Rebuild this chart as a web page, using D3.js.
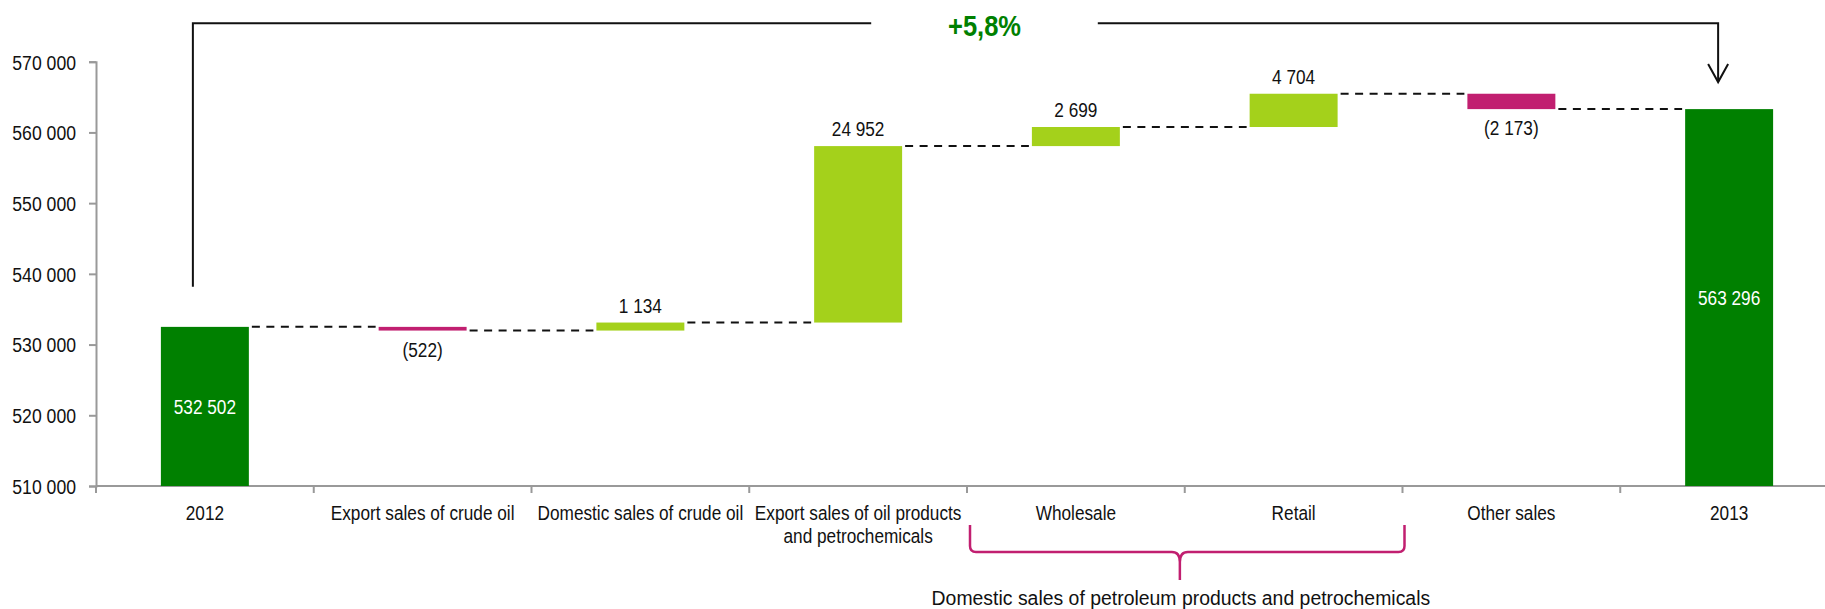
<!DOCTYPE html>
<html>
<head>
<meta charset="utf-8">
<script src="https://cdn.jsdelivr.net/npm/d3@7"></script>
<style>
  html, body { margin: 0; padding: 0; background: #fff; overflow: hidden; }
  svg { display: block; }
  text { font-family: "Liberation Sans", Arial, sans-serif; fill: #111; }
</style>
</head>
<body>
<svg id="chart" width="1825" height="609"></svg>
<script>
// Revenue bridge 2012 -> 2013 (waterfall)
const categories = [
  "2012",
  "Export sales of crude oil",
  "Domestic sales of crude oil",
  "Export sales of oil products\nand petrochemicals",
  "Wholesale",
  "Retail",
  "Other sales",
  "2013"
];
const kinds  = ["total", "delta", "delta", "delta", "delta", "delta", "delta", "total"];
const values = [532502, -522, 1134, 24952, 2699, 4704, -2173, 563296];
const yTicks = [510000, 520000, 530000, 540000, 550000, 560000, 570000];
const yDomain = [510000, 570000];
const changeLabel = "+5,8%";
const groupLabel = "Domestic sales of petroleum products and petrochemicals";
const groupMembers = ["Wholesale", "Retail"];

const COLORS = { total: "#008000", up: "#a4d11b", down: "#c11f70", axis: "#999999" };
const NARROW = 0.84;   // horizontal condensing applied to the label font

const svg = d3.select("#chart");

const x = d3.scaleBand().domain(categories).range([96, 1838]).padding(0);
const y = d3.scaleLinear().domain(yDomain).range([486, 61.7]);
const barW = x.bandwidth() * 0.404;

const locale = d3.formatLocale({ decimal: ",", thousands: " ", grouping: [3], currency: ["", ""] });
const fmt = locale.format(",d");
const fmtValue = v => v < 0 ? "(" + fmt(-v) + ")" : fmt(v);

// Condense a text horizontally around its anchor point
function condense(sel, sx) {
  sel.each(function () {
    const t = d3.select(this);
    const tx = +t.attr("x") || 0, ty = +t.attr("y") || 0;
    t.attr("x", 0).attr("y", 0)
     .attr("transform", `translate(${tx},${ty}) scale(${sx},1)`);
    t.selectAll("tspan").attr("x", 0);
  });
}

// Running totals -> bar extents
let running = 0;
const steps = categories.map((c, i) => {
  const v = values[i];
  let lo, hi, end;
  if (kinds[i] === "total") {
    lo = yDomain[0]; hi = v; end = v;
  } else {
    const start = running;
    end = start + v;
    lo = Math.min(start, end); hi = Math.max(start, end);
  }
  running = end;
  return { c, v, kind: kinds[i], lo, hi, end, cx: x(c) + x.bandwidth() / 2 };
});

// Y axis
const yAxis = d3.axisLeft(y).tickValues(yTicks).tickFormat(fmt).tickSize(7).tickPadding(13);
const gy = svg.append("g").attr("transform", "translate(96,0)").call(yAxis);
gy.select(".domain").attr("stroke", COLORS.axis).attr("stroke-width", 2);
gy.selectAll(".tick line").attr("stroke", COLORS.axis).attr("stroke-width", 2);
gy.selectAll(".tick text").attr("font-size", 20.5).attr("fill", "#111")
  .style("font-family", '"Liberation Sans", Arial, sans-serif')
  .attr("dy", "0.36em").call(condense, 0.86);

// X axis baseline with ticks at category boundaries
const gx = svg.append("g");
gx.append("line").attr("x1", 96).attr("x2", 1838).attr("y1", y(yDomain[0])).attr("y2", y(yDomain[0]))
  .attr("stroke", COLORS.axis).attr("stroke-width", 2);
gx.selectAll("line.tk").data(categories).join("line").attr("class", "tk")
  .attr("x1", c => x(c)).attr("x2", c => x(c))
  .attr("y1", y(yDomain[0])).attr("y2", y(yDomain[0]) + 7)
  .attr("stroke", COLORS.axis).attr("stroke-width", 2);

// Category labels
const cl = svg.append("g").selectAll("text").data(steps).join("text")
  .attr("text-anchor", "middle").attr("font-size", 20.5)
  .attr("x", d => d.cx).attr("y", 520);
cl.each(function (d) {
  const lines = d.c.split("\n");
  d3.select(this).selectAll("tspan").data(lines).join("tspan")
    .attr("x", d.cx).attr("dy", (l, i) => i === 0 ? 0 : 23.5).text(l => l);
});
cl.call(condense, NARROW);

// Connectors between consecutive bars
const conn = steps.slice(0, -1).map((d, i) => ({
  x1: d.cx + barW / 2 + 3,
  x2: steps[i + 1].cx - barW / 2 - 3,
  v: d.end
}));
svg.append("g").selectAll("line").data(conn).join("line")
  .attr("x1", d => d.x1).attr("x2", d => d.x2)
  .attr("y1", d => y(d.v)).attr("y2", d => y(d.v))
  .attr("stroke", "#111").attr("stroke-width", 2).attr("stroke-dasharray", "8,6.5");

// Bars
svg.append("g").selectAll("rect").data(steps).join("rect")
  .attr("x", d => d.cx - barW / 2).attr("width", barW)
  .attr("y", d => y(d.hi)).attr("height", d => y(d.lo) - y(d.hi))
  .attr("fill", d => d.kind === "total" ? COLORS.total : (d.v >= 0 ? COLORS.up : COLORS.down));

// Value labels
svg.append("g").selectAll("text").data(steps).join("text")
  .attr("text-anchor", "middle").attr("font-size", 20.5)
  .attr("x", d => d.cx)
  .attr("y", d => {
    if (d.kind === "total") return (y(d.lo) + y(d.hi)) / 2 + 7.5;
    return d.v >= 0 ? y(d.hi) - 10 : y(d.lo) + 26;
  })
  .style("fill", d => d.kind === "total" ? "#ffffff" : "#111")
  .text(d => fmtValue(d.v))
  .call(condense, NARROW);

// Overall change arrow from first to last total
const first = steps[0], last = steps[steps.length - 1];
const lx = first.cx - 12, rx = last.cx - 11, topY = 23.3;
const labelX = 984.5, gapHalf = 113.3;
const ann = svg.append("g").attr("fill", "none").attr("stroke", "#111").attr("stroke-width", 2);
ann.append("path").attr("d", `M${lx},${y(first.v) - 40}V${topY}H${labelX - gapHalf}`);
const tipY = y(last.v) - 27;
ann.append("path").attr("d", `M${labelX + gapHalf},${topY}H${rx}V${tipY}`);
ann.append("path").attr("d", `M${rx - 10},${tipY - 18}L${rx},${tipY}L${rx + 10},${tipY - 18}`);
svg.append("text").attr("x", labelX).attr("y", 35.7).attr("text-anchor", "middle")
  .attr("font-size", 29).attr("font-weight", "bold").style("fill", "#008000")
  .text(changeLabel)
  .call(condense, 0.88);

// Brace grouping the domestic petroleum-product categories
const gL = x(groupMembers[0]) + 3;
const gR = x(groupMembers[groupMembers.length - 1]) + x.bandwidth() + 2;
const gM = gL + (gR - gL) * 0.483;
const bTop = 525, bY = 552, bTip = 580, r = 6;
const brace = `M${gL},${bTop}V${bY - r}Q${gL},${bY} ${gL + r},${bY}` +
  `H${gM - 8}Q${gM},${bY} ${gM},${bY + 10}V${bTip}` +
  `M${gM},${bY + 10}Q${gM},${bY} ${gM + 8},${bY}` +
  `H${gR - r}Q${gR},${bY} ${gR},${bY - r}V${bTop}`;
svg.append("path").attr("d", brace).attr("fill", "none")
  .attr("stroke", COLORS.down).attr("stroke-width", 2.5);
svg.append("text").attr("x", gM + 1).attr("y", 605).attr("text-anchor", "middle")
  .attr("font-size", 21)
  .text(groupLabel)
  .call(condense, 0.925);
</script>
</body>
</html>
